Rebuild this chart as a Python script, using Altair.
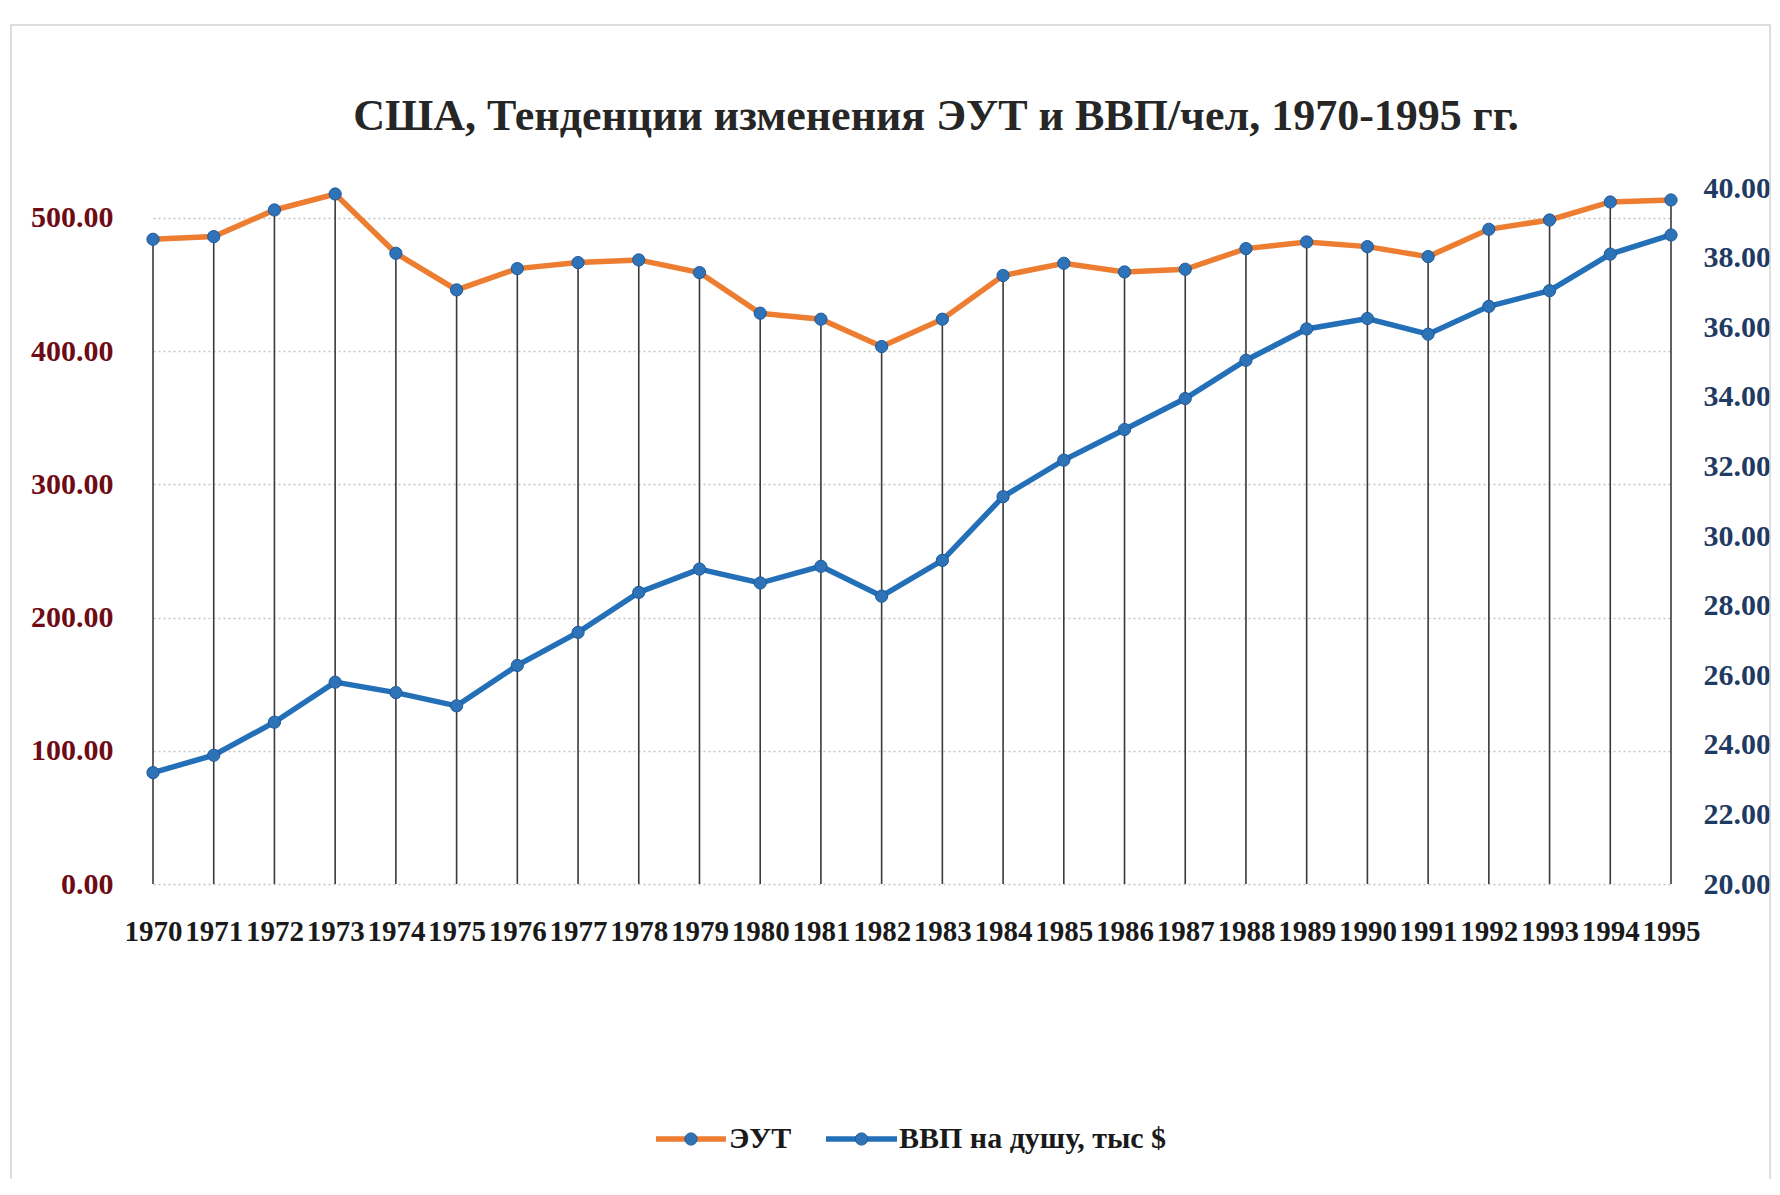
import altair as alt
import pandas as pd

FONT = "Liberation Serif"

title_text = "США, Тенденции  изменения ЭУТ и ВВП/чел, 1970-1995  гг."
series_names = ["ЭУТ", "ВВП на душу, тыс $"]

years = ["1970", "1971", "1972", "1973", "1974", "1975", "1976", "1977", "1978",
         "1979", "1980", "1981", "1982", "1983", "1984", "1985", "1986", "1987",
         "1988", "1989", "1990", "1991", "1992", "1993", "1994", "1995"]
eut = [484, 486, 506, 518, 473.5, 446, 462, 466.5, 468.5, 459, 428.5, 424, 403.5,
       424, 456.8, 466, 459.5, 461.5, 477, 482, 478.5, 471, 491.5, 498.5, 512, 513.5]
gdp = [23.2, 23.7, 24.65, 25.8, 25.5, 25.12, 26.28, 27.23, 28.38, 29.05, 28.65, 29.13,
       28.27, 29.3, 31.13, 32.18, 33.06, 33.95, 35.05, 35.95, 36.25, 35.8, 36.6, 37.05,
       38.1, 38.65]

left_ticks = [0, 100, 200, 300, 400, 500]
right_ticks = [20, 22, 24, 26, 28, 30, 32, 34, 36, 38, 40]

ORANGE = "#ED7D31"
BLUE = "#2470B8"
MARKER = "#2E72B8"
MARKER_STROKE = "#1F5A99"

df = pd.DataFrame({"year": years, "eut": eut, "gdp": gdp})

W, H = 1518, 696

x_enc = alt.X(
    "year:O", sort=None,
    scale=alt.Scale(type="point", padding=0),
    axis=alt.Axis(title=None, labelAngle=0, labelFont=FONT, labelFontSize=29,
                  labelFontWeight="bold", labelColor="#1a1a1a", labelPadding=33,
                  domain=False, ticks=False, grid=False, labelOverlap=False),
)

left_scale = alt.Scale(domain=[0, 522.5], nice=False, zero=False)
left_axis = alt.Axis(title=None, values=left_ticks, format=".2f", orient="left",
                     labelFont=FONT, labelFontSize=30, labelFontWeight="bold",
                     labelColor="#6E0B14", labelPadding=40, domain=False, ticks=False,
                     grid=True, gridColor="#C4C4C4", gridDash=[2, 3], gridWidth=1.5)
right_scale = alt.Scale(domain=[20, 40], nice=False, zero=False)
right_axis = alt.Axis(title=None, values=right_ticks, format=".2f", orient="right",
                      labelFont=FONT, labelFontSize=30, labelFontWeight="bold",
                      labelColor="#1F3B63", labelPadding=32, domain=False, ticks=False,
                      grid=False)

base = alt.Chart(df)
y_left = alt.Y("eut:Q", scale=left_scale, axis=left_axis)
y_right = alt.Y("gdp:Q", scale=right_scale, axis=right_axis)

rules = base.mark_rule(color="#3a3a3a", strokeWidth=1.6).encode(
    x=x_enc, y=y_left, y2=alt.datum(0))
orange_line = base.mark_line(color=ORANGE, strokeWidth=5.5).encode(x=x_enc, y=y_left)
orange_pts = base.mark_circle(size=150, color=MARKER, opacity=1, stroke=MARKER_STROKE,
                              strokeWidth=1).encode(x=x_enc, y=y_left)

blue_line = base.mark_line(color=BLUE, strokeWidth=5.5).encode(x=x_enc, y=y_right)
blue_pts = base.mark_circle(size=150, color=MARKER, opacity=1, stroke=MARKER_STROKE,
                            strokeWidth=1).encode(x=x_enc, y=y_right)

left = alt.layer(rules, orange_line, orange_pts)
right = alt.layer(blue_line, blue_pts)

# border of the chart area
one = pd.DataFrame({"a": [0]})
border = alt.Chart(one).mark_rect(fillOpacity=0, stroke="#D4D4D4", strokeWidth=1.5).encode(
    x=alt.value(-142), x2=alt.value(1617), y=alt.value(-163), y2=alt.value(1004))

# title as text
title_df = pd.DataFrame({"t": [title_text]})
title = alt.Chart(title_df).mark_text(font=FONT, fontSize=44, fontWeight="bold",
                                      color="#262626", align="center",
                                      baseline="middle").encode(
    x=alt.value(783), y=alt.value(-71), text="t:N")

# manual legend
legend_layers = []
leg_y = 951
leg_items = [(503, 573, 576), (673, 744, 746)]
line_colors = [ORANGE, BLUE]
for name, (x0, x1, xt), col in zip(series_names, leg_items, line_colors):
    d = pd.DataFrame({"name": [name]})
    c = alt.Chart(d)
    legend_layers.append(c.mark_rule(color=col, strokeWidth=5.5).encode(
        x=alt.value(x0), x2=alt.value(x1), y=alt.value(leg_y)))
    legend_layers.append(c.mark_circle(size=150, color=MARKER, opacity=1,
                                       stroke=MARKER_STROKE, strokeWidth=1).encode(
        x=alt.value((x0 + x1) / 2), y=alt.value(leg_y)))
    legend_layers.append(c.mark_text(font=FONT, fontSize=30, fontWeight="bold",
                                     color="#1a1a1a", align="left",
                                     baseline="middle").encode(
        x=alt.value(xt), y=alt.value(leg_y), text="name:N"))

chart = alt.layer(border, left, right, title, *legend_layers).resolve_scale(
    y="independent"
).properties(
    width=W, height=H,
    autosize=alt.AutoSizeParams(type="none"),
    padding={"left": 145, "top": 180, "right": 101, "bottom": 295},
    background="white",
).configure_view(stroke=None)

chart.save("out.html", embed_options={"renderer": "svg", "actions": False})
